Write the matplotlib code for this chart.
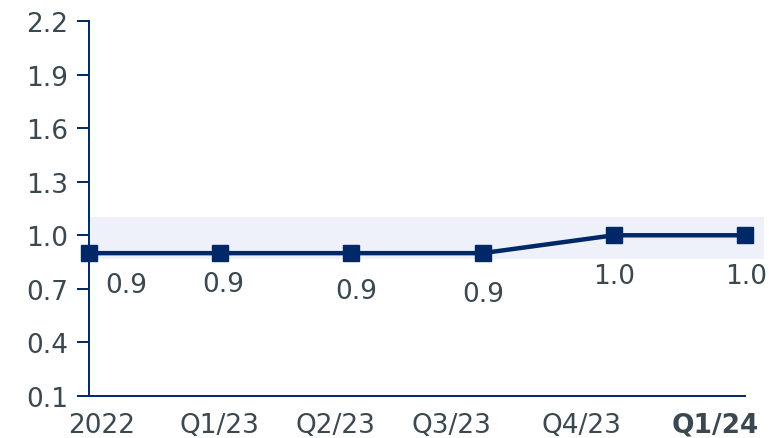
import matplotlib
matplotlib.use("Agg")
import matplotlib.pyplot as plt
from matplotlib.transforms import blended_transform_factory, offset_copy

# Data
periods = ["2022", "Q1/23", "Q2/23", "Q3/23", "Q4/23", "Q1/24"]
values = [0.9, 0.9, 0.9, 0.9, 1.0, 1.0]
value_labels = ["0.9", "0.9", "0.9", "0.9", "1.0", "1.0"]
band_low, band_high = 0.87, 1.1
y_ticks = [0.1, 0.4, 0.7, 1.0, 1.3, 1.6, 1.9, 2.2]

# Style
NAVY = "#002766"
TEXT = "#3b4850"
BAND = "#eef1fa"
FONT = 19

# Per-label pixel offsets (value labels relative to markers, period labels relative to ticks)
value_offsets = [(37, -32), (3, -31), (5, -38), (1, -41), (0, -41), (1, -41)]
period_offsets = [13, -1, -16, -31, -32, -30]

plt.rcParams["font.family"] = ["DejaVu Sans"]

W, H = 769, 439
fig = plt.figure(figsize=(W / 100, H / 100), dpi=100)
ax = fig.add_axes([89 / W, 1 - 397 / H, (745 - 89) / W, (397 - 22) / H])

x = list(range(len(periods)))

ax.fill_between([0, len(periods) - 1 + 0.145], band_low, band_high,
                color=BAND, lw=0, zorder=0, clip_on=False)
ax.plot(x, values, color=NAVY, lw=3.2, marker="s", markersize=11,
        clip_on=False, zorder=3)

for xi, yi, lab, (dx, dy) in zip(x, values, value_labels, value_offsets):
    ax.annotate(lab, (xi, yi), xytext=(dx, dy), textcoords="offset pixels",
                ha="center", va="center", fontsize=FONT, color=TEXT)

ax.set_xlim(0, len(periods) - 1)
ax.set_ylim(y_ticks[0], y_ticks[-1])
ax.set_yticks(y_ticks)
ax.set_yticklabels([f"{t:.1f}" for t in y_ticks])
ax.tick_params(axis="y", direction="out", length=9, width=1.4, color=NAVY,
               labelsize=FONT, labelcolor=TEXT, pad=6)
ax.set_xticks([])

trans = blended_transform_factory(ax.transData, ax.transAxes)
for i, (lab, dx) in enumerate(zip(periods, period_offsets)):
    bold = i == len(periods) - 1
    t = offset_copy(trans, fig=fig, x=dx, y=-29, units="dots")
    ax.text(i, 0, lab, transform=t, ha="center", va="center", fontsize=FONT,
            color=TEXT, fontweight="bold" if bold else "normal")

for side in ("top", "right"):
    ax.spines[side].set_visible(False)
for side in ("left", "bottom"):
    ax.spines[side].set_color(NAVY)
    ax.spines[side].set_linewidth(1.4)

ax.set_facecolor("none")
fig.savefig("out.png", dpi=100)
